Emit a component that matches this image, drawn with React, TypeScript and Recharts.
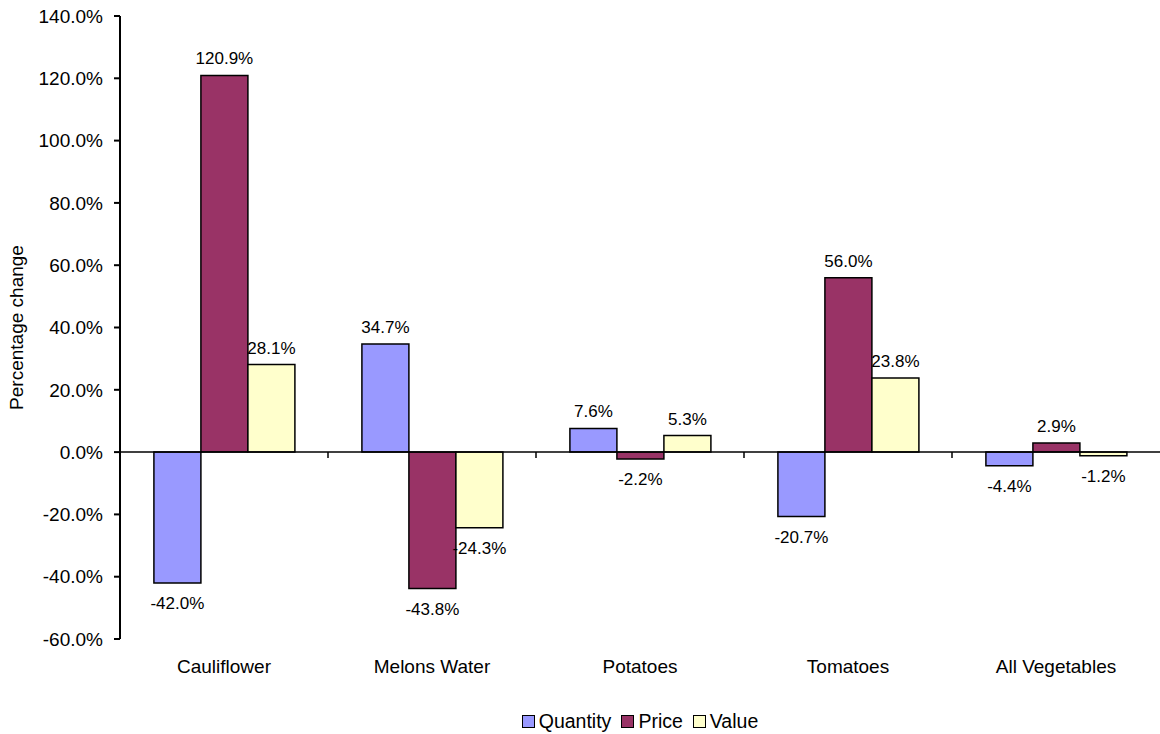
import React from 'react';
import { BarChart, Bar, XAxis, YAxis, ReferenceLine, LabelList, Legend } from 'recharts';

const categories = ['Cauliflower', 'Melons Water', 'Potatoes', 'Tomatoes', 'All Vegetables'];
const quantity = [-42.0, 34.7, 7.6, -20.7, -4.4];
const price = [120.9, -43.8, -2.2, 56.0, 2.9];
const value = [28.1, -24.3, 5.3, 23.8, -1.2];
const yTicks = [-60, -40, -20, 0, 20, 40, 60, 80, 100, 120, 140];

const seriesInfo = [
  { key: 'quantity', name: 'Quantity', color: '#9999FF' },
  { key: 'price', name: 'Price', color: '#993366' },
  { key: 'value', name: 'Value', color: '#FFFFCC' },
];

const data = categories.map((c, i) => ({
  category: c,
  quantity: quantity[i],
  price: price[i],
  value: value[i],
}));

const FONT = '"Liberation Sans", Arial, sans-serif';

const fmt = (v: number) => `${v.toFixed(1)}%`;

const BarLabel = (props: any) => {
  const { x, y, width, height, value: v } = props;
  const top = Math.min(y, y + height);
  const bottom = Math.max(y, y + height);
  const cx = x + width / 2;
  const ty = v >= 0 ? top - 11 : bottom + 26;
  return (
    <text x={cx} y={ty} textAnchor="middle" fontSize={17} fontFamily={FONT} fill="#000">
      {fmt(v)}
    </text>
  );
};

const ZeroLine = (props: any) => {
  const { x1, y1, x2 } = props;
  const n = categories.length;
  const ticks = [];
  for (let i = 1; i < n; i++) {
    const tx = x1 + ((x2 - x1) * i) / n;
    ticks.push(<line key={i} x1={tx} y1={y1} x2={tx} y2={y1 + 6} stroke="#000" strokeWidth={1.5} />);
  }
  return (
    <g>
      <line x1={x1} y1={y1} x2={x2} y2={y1} stroke="#000" strokeWidth={1.5} />
      {ticks}
    </g>
  );
};

const CatTick = (props: any) => {
  const { x, y, payload } = props;
  return (
    <text x={x} y={y + 34} textAnchor="middle" fontSize={19} fontFamily={FONT} fill="#000">
      {payload.value}
    </text>
  );
};

const LegendContent = () => (
  <div
    style={{
      display: 'flex',
      justifyContent: 'center',
      alignItems: 'center',
      paddingLeft: 130,
      paddingTop: 6,
      fontFamily: FONT,
      fontSize: 19.5,
      color: '#000',
    }}
  >
    {seriesInfo.map((s) => (
      <div key={s.key} style={{ display: 'flex', alignItems: 'center', marginRight: 10 }}>
        <span
          style={{
            display: 'inline-block',
            width: 11,
            height: 11,
            background: s.color,
            border: '1.5px solid #000',
            marginRight: 4,
          }}
        />
        <span>{s.name}</span>
      </div>
    ))}
  </div>
);

const YLabel = (props: any) => {
  const { viewBox } = props;
  const cx = viewBox.x + 16;
  const cy = viewBox.y + viewBox.height / 2;
  return (
    <text
      x={cx}
      y={cy}
      transform={`rotate(-90 ${cx} ${cy})`}
      textAnchor="middle"
      dominantBaseline="central"
      fontSize={19}
      fontFamily={FONT}
      fill="#000"
    >
      Percentage change
    </text>
  );
};

export default function App() {
  return (
    <div style={{ position: 'absolute', left: 0, top: 0, background: '#fff' }}>
      <BarChart
        width={1160}
        height={734}
        data={data}
        margin={{ top: 16, right: 0, bottom: 0, left: 0 }}
        barCategoryGap="16.3%"
        barGap={0}
      >
        <XAxis
          dataKey="category"
          axisLine={false}
          tickLine={false}
          tickSize={0}
          tickMargin={0}
          height={65}
          tick={<CatTick />}
          interval={0}
        />
        <YAxis
          width={120}
          domain={[-60, 140]}
          ticks={yTicks}
          interval={0}
          tickFormatter={fmt}
          axisLine={{ stroke: '#000', strokeWidth: 2 }}
          tickLine={{ stroke: '#000', strokeWidth: 2 }}
          tickSize={6}
          tickMargin={11}
          tick={{ fill: '#000', fontSize: 19, fontFamily: FONT }}
          label={<YLabel />}
        />
        {seriesInfo.map((s) => (
          <Bar
            key={s.key}
            dataKey={s.key}
            name={s.name}
            fill={s.color}
            stroke="#000"
            strokeWidth={1.5}
            isAnimationActive={false}
          >
            <LabelList dataKey={s.key} content={<BarLabel />} />
          </Bar>
        ))}
        <ReferenceLine y={0} shape={<ZeroLine />} />
        <Legend
          verticalAlign="bottom"
          height={30}
          wrapperStyle={{ left: 0, width: 1160 }}
          content={<LegendContent />}
        />
      </BarChart>
    </div>
  );
}
